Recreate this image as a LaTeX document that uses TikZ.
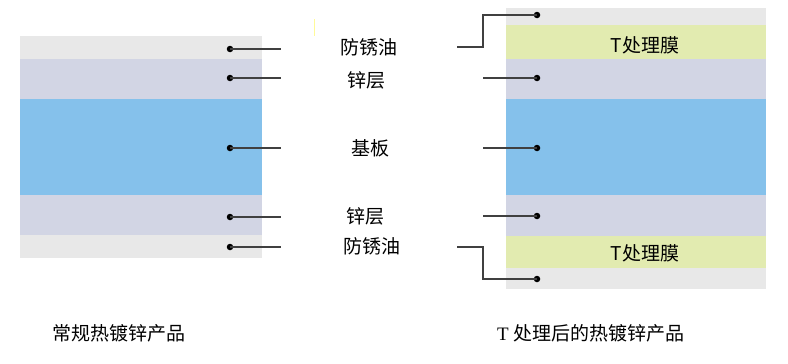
\documentclass[tikz,border=0pt]{standalone}
\usepackage{fontspec}
\setmainfont{Liberation Serif}
\newfontfamily\cjk{Noto Sans CJK SC}
\usetikzlibrary{positioning}

\definecolor{oilgray}{HTML}{E8E8E8}
\definecolor{zincgray}{HTML}{D2D5E4}
\definecolor{baseblue}{HTML}{85C1EB}
\definecolor{tfilm}{HTML}{E2EBB0}

\tikzset{
  lbl/.style={font=\cjk\fontsize{19}{19}\selectfont, inner sep=0pt},
  caption/.style={font=\fontsize{19}{19}\selectfont, inner sep=0pt, anchor=west},
  lead/.style={draw=black!75, line width=1.5pt},
  dot/.style={circle, fill=black, inner sep=0pt, minimum size=6.5pt}
}

\begin{document}
\begin{tikzpicture}[x=1pt,y=-1pt]
\useasboundingbox (0,0) rectangle (788,364);

% left stack
\fill[oilgray]  (20,36)  rectangle (262,59);
\fill[zincgray] (20,59)  rectangle (262,99);
\fill[baseblue] (20,99)  rectangle (262,195);
\fill[zincgray] (20,195) rectangle (262,235);
\fill[oilgray]  (20,235) rectangle (262,258);

% right stack
\fill[oilgray]  (506,8)   rectangle (766,25);
\fill[tfilm]    (506,25)  rectangle (766,59);
\fill[zincgray] (506,59)  rectangle (766,99);
\fill[baseblue] (506,99)  rectangle (766,195);
\fill[zincgray] (506,195) rectangle (766,236);
\fill[tfilm]    (506,236) rectangle (766,268);
\fill[oilgray]  (506,268) rectangle (766,289);

\draw[yellow!40, line width=0.8pt] (314,19) -- (314,36);

% labels
\node[lbl] (oiltop) at (369,47)  {防锈油};
\node[lbl] (zinctop) at (366,80) {锌层};
\node[lbl] (base) at (370,148)   {基板};
\node[lbl] (zincbot) at (365,216) {锌层};
\node[lbl] (oilbot) at (372,246) {防锈油};
\node[lbl] (filmtop) at (645,45) {T处理膜};
\node[lbl] (filmbot) at (645,253) {T处理膜};

% left leaders
\foreach \n/\y in {1/49,2/78,3/148,4/217,5/247}{
  \node[dot] (l\n) at (230,\y) {};
  \coordinate (le\n) at (281,\y);
  \draw[lead] (l\n.center) -- (le\n);
}

% right leaders
\foreach \n/\y in {2/78,3/148,4/216}{
  \node[dot] (r\n) at (537,\y) {};
  \coordinate (re\n) at (483,\y);
  \draw[lead] (r\n.center) -- (re\n);
}
\node[dot] (r1) at (537,15) {};
\coordinate (re1) at (457,47);
\draw[lead] (r1.center) -- ++(-54,0) |- (re1);
\node[dot] (r5) at (537,279) {};
\coordinate (re5) at (457,247);
\draw[lead] (r5.center) -- ++(-54,0) |- (re5);

% captions
\node[caption] (capleft) at (52,333) {\cjk 常规热镀锌产品};
\node[caption] (capright) at (497,333) {T {\cjk 处理后的热镀锌产品}};
\end{tikzpicture}
\end{document}
